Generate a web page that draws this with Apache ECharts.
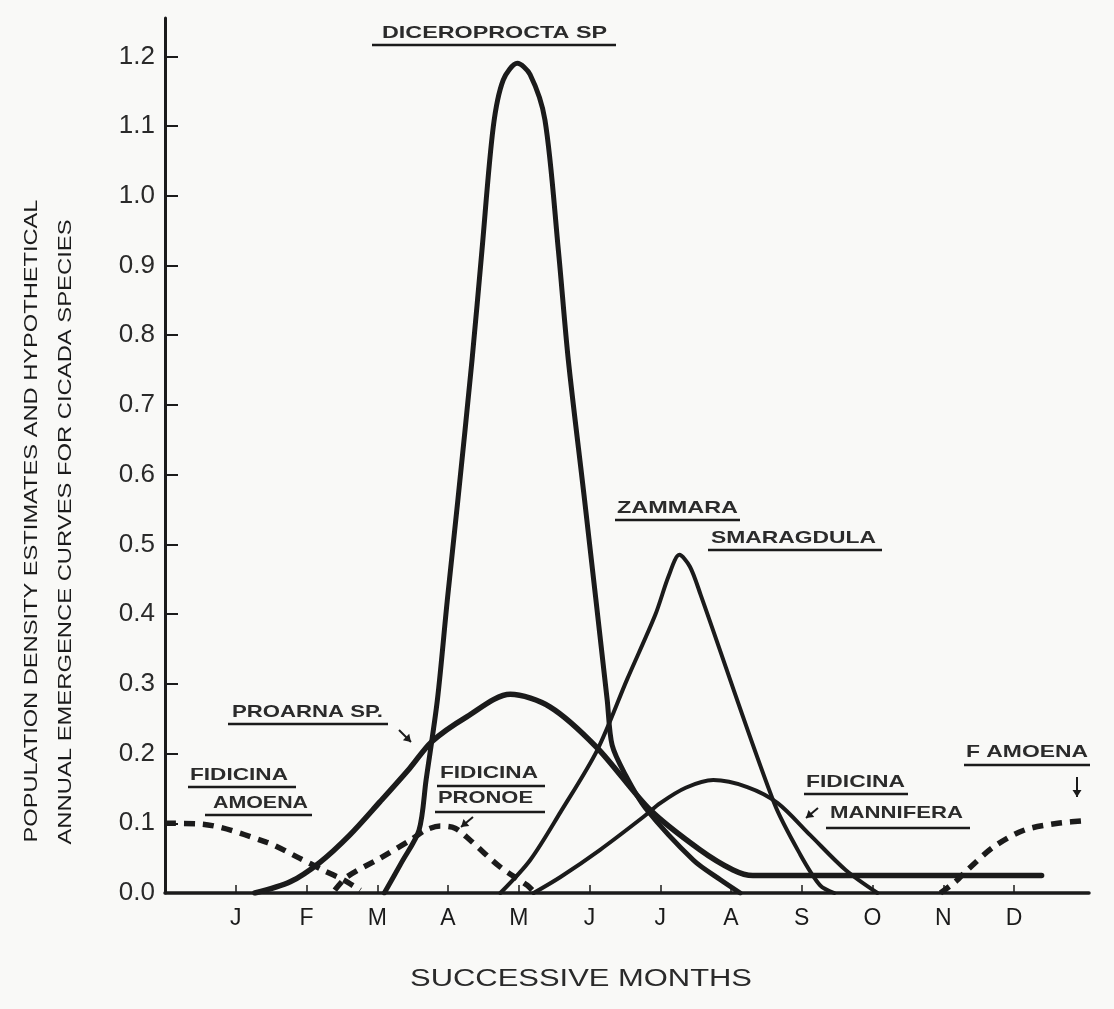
<!DOCTYPE html>
<html>
<head>
<meta charset="utf-8">
<title>Cicada emergence curves</title>
<script src="https://cdn.jsdelivr.net/npm/echarts@6/dist/echarts.min.js"></script>
<style>
  html, body { margin: 0; padding: 0; background: #f9f9f7; }
  #chart { width: 1114px; height: 1009px; }
</style>
</head>
<body>
<div id="chart"></div>
<script>
// Month positions: 1 = January ... 12 = December
const months = ['J', 'F', 'M', 'A', 'M', 'J', 'J', 'A', 'S', 'O', 'N', 'D'];
const yTicks = [0.0, 0.1, 0.2, 0.3, 0.4, 0.5, 0.6, 0.7, 0.8, 0.9, 1.0, 1.1, 1.2];

// Population density per species, [month position, density]
const diceroprocta = [
  [3.10, 0], [3.35, 0.045], [3.59, 0.09], [3.69, 0.162], [3.85, 0.277], [3.99, 0.42],
  [4.14, 0.564], [4.34, 0.765], [4.48, 0.922], [4.64, 1.099], [4.78, 1.166], [4.98, 1.19],
  [5.16, 1.174], [5.37, 1.109], [5.56, 0.922], [5.70, 0.765], [5.93, 0.564], [6.25, 0.277],
  [6.32, 0.212], [6.51, 0.169], [6.79, 0.122], [7.47, 0.047], [7.85, 0.019], [8.13, 0]
];
const proarna = [
  [1.27, 0], [1.77, 0.016], [2.19, 0.044], [2.61, 0.083], [3.04, 0.131], [3.46, 0.179],
  [3.77, 0.217], [4.27, 0.253], [4.88, 0.285], [5.44, 0.267], [6.10, 0.209], [6.86, 0.119],
  [7.56, 0.062], [8.03, 0.033], [8.31, 0.025], [12.39, 0.025]
];
const zammara = [
  [4.74, 0], [5.16, 0.047], [5.59, 0.116], [6.11, 0.205], [6.53, 0.306], [6.93, 0.399],
  [7.12, 0.455], [7.27, 0.485], [7.42, 0.468], [7.57, 0.428], [8.61, 0.129], [8.98, 0.055],
  [9.26, 0.011], [9.46, 0]
];
const mannifera = [
  [5.21, 0], [5.59, 0.023], [6.15, 0.062], [6.76, 0.109], [7.00, 0.129], [7.36, 0.151],
  [7.75, 0.162], [8.23, 0.152], [8.66, 0.129], [9.12, 0.083], [9.62, 0.033], [10.07, 0]
];
const pronoe = [
  [2.40, 0.004], [2.57, 0.023], [3.04, 0.05], [3.47, 0.076], [3.68, 0.09], [3.89, 0.096],
  [4.10, 0.093], [4.31, 0.076], [4.74, 0.037], [5.12, 0.011], [5.23, 0]
];
const amoenaEarly = [
  [0.0, 0.10], [0.5, 0.099], [1.43, 0.073], [1.90, 0.05], [2.23, 0.033], [2.52, 0.019], [2.76, 0.004]
];
const amoenaLate = [
  [10.96, 0], [11.17, 0.016], [11.34, 0.033], [11.71, 0.066], [12.14, 0.09], [12.62, 0.10], [13.06, 0.104]
];

const FONT = '"Liberation Sans", Arial, Helvetica, sans-serif';
const INK = '#1b1b1b';

const measureCtx = document.createElement('canvas').getContext('2d');
function textWidth(text, size, weight) {
  measureCtx.font = (weight || 'normal') + ' ' + size + 'px ' + FONT;
  return measureCtx.measureText(text).width;
}

// Species annotations: text box left edge, centre line, printed width, underline
const notes = [
  { text: 'DICEROPROCTA SP', x: 382, y: 33, w: 225, ul: [372, 616, 45] },
  { text: 'PROARNA SP.', x: 232, y: 712, w: 151, ul: [228, 388, 724] },
  { text: 'FIDICINA', x: 190, y: 775, w: 98, ul: [188, 296, 787] },
  { text: 'AMOENA', x: 213, y: 803, w: 95, ul: [205, 312, 815] },
  { text: 'FIDICINA', x: 440, y: 773, w: 98, ul: [437, 545, 786] },
  { text: 'PRONOE', x: 438, y: 798, w: 95, ul: [435, 545, 812] },
  { text: 'ZAMMARA', x: 617, y: 508, w: 121, ul: [615, 740, 520] },
  { text: 'SMARAGDULA', x: 711, y: 538, w: 165, ul: [708, 882, 550] },
  { text: 'FIDICINA', x: 806, y: 782, w: 99, ul: [804, 908, 794] },
  { text: 'MANNIFERA', x: 830, y: 813, w: 133, ul: [826, 970, 828] },
  { text: 'F AMOENA', x: 966, y: 752, w: 122, ul: [964, 1090, 765] }
];

// Small pointer arrows: shaft from -> to, head at "to"
const pointers = [
  { from: [399, 730], to: [411, 742] },
  { from: [473, 817], to: [461, 827] },
  { from: [818, 808], to: [806, 818] },
  { from: [1077, 777], to: [1077, 797] }
];

const graphics = [];
const LABEL_SIZE = 17;
const LABEL_WEIGHT = 'bold';
notes.forEach(n => {
  graphics.push({
    type: 'text', x: n.x, y: n.y, scaleX: n.w / textWidth(n.text, LABEL_SIZE, LABEL_WEIGHT), z: 10,
    style: {
      text: n.text, font: LABEL_WEIGHT + ' ' + LABEL_SIZE + 'px ' + FONT, fill: '#2b2b2b',
      textAlign: 'left', textVerticalAlign: 'middle'
    }
  });
  graphics.push({
    type: 'line', z: 10,
    shape: { x1: n.ul[0], y1: n.ul[2], x2: n.ul[1], y2: n.ul[2] },
    style: { stroke: INK, lineWidth: 2.5 }
  });
});
pointers.forEach(p => {
  const dx = p.to[0] - p.from[0], dy = p.to[1] - p.from[1];
  const len = Math.hypot(dx, dy), ux = dx / len, uy = dy / len;
  const hl = 7, hw = 4.5;
  graphics.push({
    type: 'line', z: 10,
    shape: { x1: p.from[0], y1: p.from[1], x2: p.to[0], y2: p.to[1] },
    style: { stroke: INK, lineWidth: 2 }
  });
  graphics.push({
    type: 'polygon', z: 10,
    shape: { points: [
      [p.to[0], p.to[1]],
      [p.to[0] - ux * hl - uy * hw, p.to[1] - uy * hl + ux * hw],
      [p.to[0] - ux * hl + uy * hw, p.to[1] - uy * hl - ux * hw]
    ] },
    style: { fill: INK }
  });
});

// Axis titles
const TITLE_SIZE = 18;
const yTitle1 = 'POPULATION DENSITY ESTIMATES AND HYPOTHETICAL';
const yTitle2 = 'ANNUAL EMERGENCE CURVES FOR CICADA SPECIES';
graphics.push({
  type: 'text', x: 32, y: 521, rotation: Math.PI / 2, scaleX: 643 / textWidth(yTitle1, TITLE_SIZE),
  style: { text: yTitle1, font: TITLE_SIZE + 'px ' + FONT, fill: INK, textAlign: 'center', textVerticalAlign: 'middle' }
});
graphics.push({
  type: 'text', x: 66, y: 532, rotation: Math.PI / 2, scaleX: 625 / textWidth(yTitle2, TITLE_SIZE),
  style: { text: yTitle2, font: TITLE_SIZE + 'px ' + FONT, fill: INK, textAlign: 'center', textVerticalAlign: 'middle' }
});
const xTitle = 'SUCCESSIVE MONTHS';
graphics.push({
  type: 'text', x: 581, y: 980, scaleX: 342 / textWidth(xTitle, 23),
  style: { text: xTitle, font: '23px ' + FONT, fill: '#2a2a2a', textAlign: 'center', textVerticalAlign: 'middle' }
});

function solid(name, data, width) {
  return {
    name, type: 'line', data, symbol: 'none', smooth: 0.3,
    lineStyle: { color: INK, width: width || 4, cap: 'round', join: 'round' }, z: 3
  };
}
function dashed(name, data) {
  return {
    name, type: 'line', data, symbol: 'none', smooth: 0.3,
    lineStyle: { color: INK, width: 5.5, type: [11, 8], cap: 'butt' }, z: 3
  };
}

const monthValues = months.map((m, i) => i + 1);

const chart = echarts.init(document.getElementById('chart'), null, { renderer: 'canvas' });
chart.setOption({
  animation: false,
  backgroundColor: '#f9f9f7',
  grid: { left: 165, right: 25, top: 18, bottom: 116 },
  xAxis: {
    type: 'value', min: 0, max: 13.06,
    axisLine: { show: true, lineStyle: { color: INK, width: 3.5 } },
    axisTick: { show: true, inside: true, length: 8, customValues: monthValues, lineStyle: { color: INK, width: 1.5 } },
    axisLabel: {
      customValues: monthValues, formatter: v => months[Math.round(v) - 1],
      fontFamily: FONT, fontSize: 23, color: INK, margin: 14
    },
    splitLine: { show: false }
  },
  yAxis: {
    type: 'value', min: 0, max: 1.255,
    axisLine: { show: true, lineStyle: { color: INK, width: 3 } },
    axisTick: { show: true, inside: true, length: 13, customValues: yTicks.slice(1), lineStyle: { color: INK, width: 2 } },
    axisLabel: {
      customValues: yTicks, formatter: v => v.toFixed(1),
      fontFamily: FONT, fontSize: 26, color: '#2a2a2a', margin: 10
    },
    splitLine: { show: false }
  },
  series: [
    solid('Diceroprocta sp.', diceroprocta, 5),
    solid('Proarna sp.', proarna, 5.5),
    solid('Zammara smaragdula', zammara, 4),
    solid('Fidicina mannifera', mannifera, 4),
    dashed('Fidicina pronoe', pronoe),
    dashed('Fidicina amoena', amoenaEarly),
    dashed('F. amoena', amoenaLate)
  ],
  graphic: graphics
});
</script>
</body>
</html>
